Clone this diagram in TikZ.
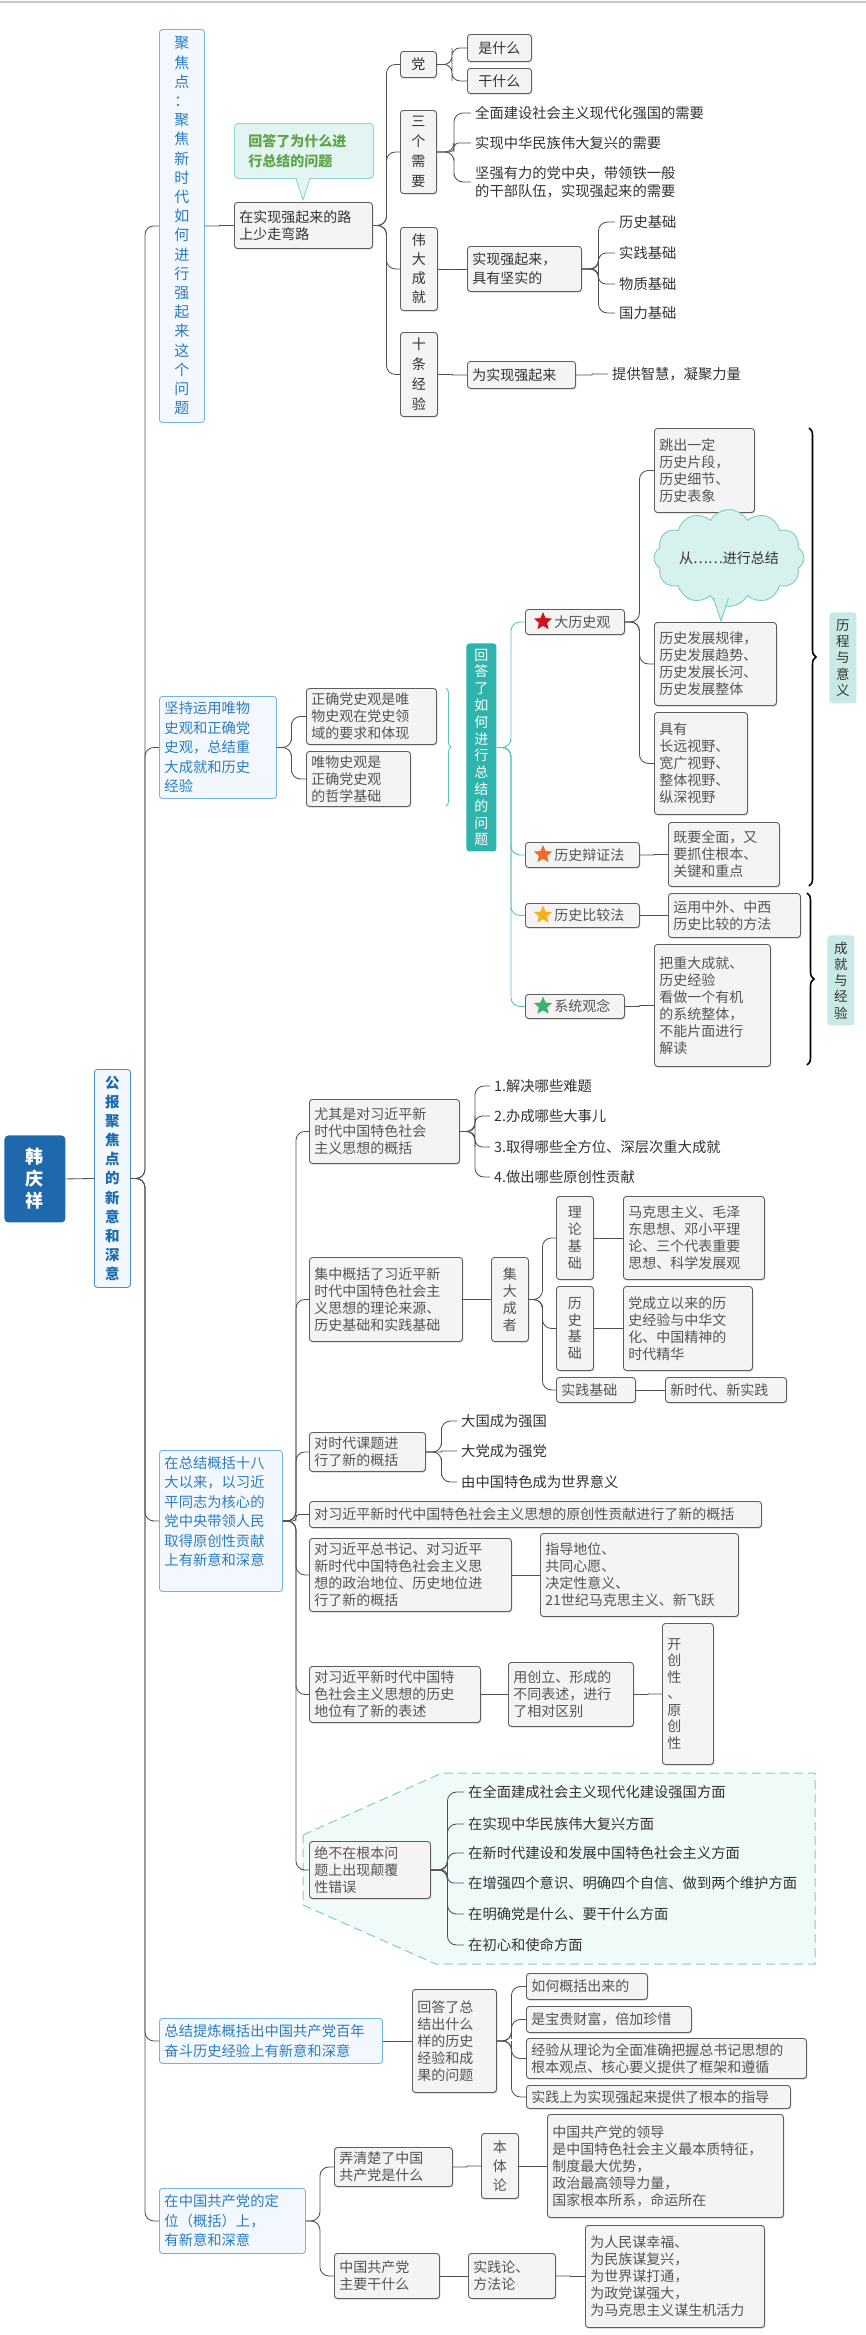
\documentclass[tikz,border=0pt]{standalone}
\usepackage{fontspec}
\setmainfont{Noto Sans CJK SC}
\usetikzlibrary{calc,shapes.geometric,shapes.symbols,decorations.pathreplacing,shadows}
\definecolor{gline}{HTML}{5E5E5E}
\definecolor{gfill}{HTML}{F4F4F4}
\definecolor{dtext}{HTML}{333333}
\definecolor{stext}{HTML}{555555}
\definecolor{bline}{HTML}{74B4DE}
\definecolor{bfill}{HTML}{F2F8FD}
\definecolor{btext}{HTML}{2C7DC0}
\definecolor{gbline}{HTML}{4A90C8}
\definecolor{gbtext}{HTML}{1B6AAE}
\definecolor{rootc}{HTML}{1E68AD}
\definecolor{tealc}{HTML}{2FB4AD}
\definecolor{tline}{HTML}{5DC2BA}
\definecolor{cline}{HTML}{505050}
\definecolor{labfill}{HTML}{C9E9E6}
\definecolor{calfill}{HTML}{E2F5F2}
\definecolor{calline}{HTML}{8FD3CB}
\definecolor{caltext}{HTML}{5FA548}
\definecolor{dashfill}{HTML}{F0FAF9}
\definecolor{dashline}{HTML}{84CDC6}
\definecolor{cloudfill}{HTML}{D6F1EE}
\definecolor{cloudline}{HTML}{7CCBC3}
\definecolor{stara}{HTML}{D0121C}
\definecolor{starb}{HTML}{F06A2A}
\definecolor{starc}{HTML}{F5B21A}
\definecolor{stard}{HTML}{3BB272}
\makeatletter
\newcommand\bx[7]{%
  \pgfmathsetmacro\bxw{#5-#3}\pgfmathsetmacro\bxh{#6-#4}\pgfmathsetmacro\bxt{#5-#3-10}%
  \node[#1,anchor=north west,minimum width=\bxw pt,minimum height=\bxh pt,text width=\bxt pt] (#2) at (#3,#4) {#7};}
\newcommand\lk[3][]{%
  \path (#2) coordinate (LA) (#3) coordinate (LB);%
  \pgfpointdiff{\pgfpointanchor{LA}{center}}{\pgfpointanchor{LB}{center}}%
  \pgfmathsetmacro\lkr{min(9,abs(\the\pgf@y)/2.05)}%
  \draw[conn,rounded corners=\lkr pt,#1] (LA) -| ($(LA)!.5!(LB)$) |- (LB);}
\makeatother
\begin{document}
\begin{tikzpicture}[x=1pt,y=-1pt]
\tikzset{
 bxbase/.style={rounded corners=3pt,line width=0.9pt,inner xsep=5pt,inner ysep=2pt,font=\fontsize{14}{17}\selectfont},
 gbox/.style={bxbase,draw=gline,fill=gfill,text=dtext,align=left,drop shadow={shadow xshift=0.8pt,shadow yshift=-1.2pt,fill=black,opacity=0.18}},
 sbox/.style={gbox,text=stext},
 vbox/.style={gbox,align=center,font=\fontsize{14}{19.5}\selectfont},
 svbox/.style={sbox,align=center,font=\fontsize{14}{16.8}\selectfont},
 bbox/.style={bxbase,draw=bline,fill=bfill,text=btext,align=left,font=\fontsize{14.3}{19.5}\selectfont},
 ptext/.style={anchor=west,inner xsep=4pt,inner ysep=1pt,text=dtext,font=\fontsize{14.3}{18}\selectfont,align=left},
 conn/.style={draw=cline,line width=0.85pt},
 tconn/.style={draw=tline,line width=0.9pt},
 starn/.style={star,star points=5,star point ratio=2.2,minimum size=19pt,inner sep=0pt,draw=none},
 labbox/.style={bxbase,fill=labfill,draw=none,text=dtext,align=center,font=\fontsize{13.5}{16.3}\selectfont},
}
\useasboundingbox (0,0) rectangle (866,2335);
\fill[white] (0,0) rectangle (866,2335);
\draw[black!22,line width=1.5pt] (0,2) -- (866,2);
\draw[dashline,fill=dashfill,dash pattern=on 9pt off 5pt,line width=1pt] (303,1835) -- (442,1773) -- (815,1773) -- (815,1964) -- (436,1964) -- (303,1905) -- cycle;

% level 0 and 1
\bx{bxbase,fill=rootc,text=white,align=center,font=\fontsize{18}{22}\selectfont\bfseries,rounded corners=4pt}{root}{4}{1135}{65}{1222}{韩\\庆\\祥}
\bx{bxbase,draw=gbline,fill=bfill,text=gbtext,align=center,font=\fontsize{14.5}{19.1}\selectfont\bfseries}{gb}{94}{1069}{130}{1287}{公\\报\\聚\\焦\\点\\的\\新\\意\\和\\深\\意}
\bx{bbox,align=center,font=\fontsize{15}{19.2}\selectfont}{jj}{159}{29}{204}{422}{聚\\焦\\点\\：\\聚\\焦\\新\\时\\代\\如\\何\\进\\行\\强\\起\\来\\这\\个\\问\\题}
\bx{bbox}{jc}{159}{696}{276}{798}{坚持运用唯物\\史观和正确党\\史观，总结重\\大成就和历史\\经验}
\bx{bbox}{zj}{159}{1450}{282}{1591}{在总结概括十八\\大以来，以习近\\平同志为核心的\\党中央带领人民\\取得原创性贡献\\上有新意和深意\\\mbox{}}
\bx{bbox}{zl}{159}{2018}{382}{2063}{总结提炼概括出中国共产党百年\\奋斗历史经验上有新意和深意}
\bx{bbox}{dw}{159}{2188}{305}{2253}{在中国共产党的定\\位（概括）上，\\有新意和深意}

% branch 1
\bx{gbox}{zs}{234}{202}{372}{248}{在实现强起来的路\\上少走弯路}
\bx{bxbase,draw=calline,fill=calfill,text=caltext,align=left,font=\fontsize{14}{20}\selectfont\bfseries,rounded corners=4pt}{cb}{234}{123}{373}{178}{\hspace*{9pt}回答了为什么进\\\hspace*{9pt}行总结的问题}
\fill[calfill] (296,176) -- (303,200) -- (310,176) -- cycle;
\draw[calline,line width=0.9pt] (296,178.4) -- (303,200) -- (310,178.4);
\bx{gbox,align=center}{dang}{400}{51}{436}{77}{党}
\bx{gbox,align=center}{ssm}{467}{34}{531}{61}{是什么}
\bx{gbox,align=center}{gsm}{467}{68}{531}{93}{干什么}
\bx{vbox,font=\fontsize{14}{20}\selectfont}{sgxy}{400}{110}{436}{193}{三\\个\\需\\要}
\node[ptext] (t1) at (471,113) {全面建设社会主义现代化强国的需要};
\node[ptext] (t2) at (471,143) {实现中华民族伟大复兴的需要};
\node[ptext] (t3) at (471,182) {坚强有力的党中央，带领铁一般\\的干部队伍，实现强起来的需要};
\bx{vbox,font=\fontsize{14}{19}\selectfont}{wdcj}{400}{227}{437}{310}{伟\\大\\成\\就}
\bx{gbox,font=\fontsize{14}{19}\selectfont}{sxq}{467}{246}{581}{291}{实现强起来，\\具有坚实的}
\node[ptext] (j1) at (615,222) {历史基础};
\node[ptext] (j2) at (615,253) {实践基础};
\node[ptext] (j3) at (615,284) {物质基础};
\node[ptext] (j4) at (615,313) {国力基础};
\bx{vbox,font=\fontsize{14}{20}\selectfont}{stjy}{400}{332}{437}{416}{十\\条\\经\\验}
\bx{gbox}{wsx}{467}{361}{575}{388}{为实现强起来}
\node[ptext] (tg) at (608,374) {提供智慧，凝聚力量};

% branch 2
\bx{sbox}{zqd}{306}{688}{436}{744}{正确党史观是唯\\物史观在党史领\\域的要求和体现}
\bx{sbox}{wws}{306}{751}{410}{806}{唯物史观是\\正确党史观\\的哲学基础}
\draw[tline,line width=0.9pt,decorate,decoration={brace,amplitude=5pt}] (446,688) -- (446,806);
\bx{bxbase,fill=tealc,draw=none,text=white,align=center,font=\fontsize{14}{16.8}\selectfont}{hdr}{466}{643}{496}{851}{回\\答\\了\\如\\何\\进\\行\\总\\结\\的\\问\\题}
\bx{sbox}{dls}{525}{609}{624}{634}{\hspace*{24pt}大历史观}
\node[starn,fill=stara] (sa) at (543,621.5) {};
\bx{sbox}{bz}{525}{842}{639}{867}{\hspace*{24pt}历史辩证法}
\node[starn,fill=starb] (sb) at (543,854.5) {};
\bx{sbox}{bj}{525}{903}{639}{927}{\hspace*{24pt}历史比较法}
\node[starn,fill=starc] (sc) at (543,915) {};
\bx{sbox}{xt}{525}{994}{624}{1018}{\hspace*{24pt}系统观念}
\node[starn,fill=stard] (sd) at (543,1006) {};
\bx{sbox}{tc}{654}{428}{754}{512}{跳出一定\\历史片段，\\历史细节、\\历史表象}
\node[cloud,cloud puffs=12,cloud puff arc=120,aspect=1.8,minimum width=150pt,minimum height=84pt,draw=cloudline,fill=cloudfill,line width=0.9pt,text=dtext,font=\fontsize{14}{17}\selectfont,inner sep=0pt] (cl) at (729,558) {从……进行总结};
\fill[cloudfill] (712,592) -- (721,621) -- (730,592) -- cycle;
\draw[cloudline,line width=0.9pt] (713.5,598) -- (721,621) -- (728.5,598);
\bx{sbox}{fz}{654}{622}{776}{705}{历史发展规律，\\历史发展趋势、\\历史发展长河、\\历史发展整体}
\bx{sbox}{jy}{654}{712}{747}{814}{具有\\长远视野、\\宽广视野、\\整体视野、\\纵深视野}
\bx{sbox}{qm}{668}{822}{779}{886}{既要全面，又\\要抓住根本、\\关键和重点}
\bx{sbox}{yy}{668}{893}{800}{937}{运用中外、中西\\历史比较的方法}
\bx{sbox}{bzd}{654}{944}{770}{1066}{把重大成就、\\历史经验\\看做一个有机\\的系统整体，\\不能片面进行\\解读}
\draw[black,line width=1.6pt,decorate,decoration={brace,amplitude=7pt}] (809,428) -- (809,886);
\draw[black,line width=1.6pt,decorate,decoration={brace,amplitude=7pt}] (807,893) -- (807,1065);
\bx{labbox}{lc}{829}{612}{856}{703}{历\\程\\与\\意\\义}
\bx{labbox}{cj}{827}{935}{854}{1025}{成\\就\\与\\经\\验}

% branch 3
\bx{sbox}{yq}{309}{1099}{459}{1163}{尤其是对习近平新\\时代中国特色社会\\主义思想的概括}
\node[ptext] (y1) at (490,1086) {1.解决哪些难题};
\node[ptext] (y2) at (490,1116) {2.办成哪些大事儿};
\node[ptext] (y3) at (490,1147) {3.取得哪些全方位、深层次重大成就};
\node[ptext] (y4) at (490,1177) {4.做出哪些原创性贡献};
\bx{sbox}{jz}{309}{1257}{462}{1341}{集中概括了习近平新\\时代中国特色社会主\\义思想的理论来源、\\历史基础和实践基础}
\bx{svbox}{jd}{491}{1257}{528}{1341}{集\\大\\成\\者}
\bx{svbox}{ll}{556}{1196}{593}{1279}{理\\论\\基\\础}
\bx{sbox}{mk}{623}{1196}{764}{1279}{马克思主义、毛泽\\东思想、邓小平理\\论、三个代表重要\\思想、科学发展观}
\bx{svbox}{ls}{556}{1286}{593}{1370}{历\\史\\基\\础}
\bx{sbox}{dc}{623}{1286}{752}{1370}{党成立以来的历\\史经验与中华文\\化、中国精神的\\时代精华}
\bx{sbox}{sj}{556}{1377}{635}{1402}{实践基础}
\bx{sbox}{xsd}{665}{1377}{786}{1402}{新时代、新实践}
\bx{sbox}{ds}{309}{1432}{425}{1471}{对时代课题进\\行了新的概括}
\node[ptext] (d1) at (457,1421) {大国成为强国};
\node[ptext] (d2) at (457,1451) {大党成为强党};
\node[ptext] (d3) at (457,1482) {由中国特色成为世界意义};
\bx{sbox}{yc}{309}{1501}{761}{1527}{对习近平新时代中国特色社会主义思想的原创性贡献进行了新的概括}
\bx{sbox}{zs2}{309}{1538}{511}{1611}{对习近平总书记、对习近平\\新时代中国特色社会主义思\\想的政治地位、历史地位进\\行了新的概括}
\bx{sbox}{zd}{540}{1533}{738}{1616}{指导地位、\\共同心愿、\\决定性意义、\\21世纪马克思主义、新飞跃}
\bx{sbox}{lsd}{309}{1666}{480}{1722}{对习近平新时代中国特\\色社会主义思想的历史\\地位有了新的表述}
\bx{sbox}{yc2}{508}{1662}{633}{1726}{用创立、形成的\\不同表述，进行\\了相对区别}
\bx{sbox,font=\fontsize{14}{16.5}\selectfont}{kc}{662}{1623}{713}{1764}{开\\创\\性\\、\\原\\创\\性}
\bx{sbox}{jb}{309}{1841}{430}{1898}{绝不在根本问\\题上出现颠覆\\性错误}
\node[ptext] (b1) at (464,1792) {在全面建成社会主义现代化建设强国方面};
\node[ptext] (b2) at (464,1824) {在实现中华民族伟大复兴方面};
\node[ptext] (b3) at (464,1853) {在新时代建设和发展中国特色社会主义方面};
\node[ptext] (b4) at (464,1883) {在增强四个意识、明确四个自信、做到两个维护方面};
\node[ptext] (b5) at (464,1914) {在明确党是什么、要干什么方面};
\node[ptext] (b6) at (464,1945) {在初心和使命方面};

% branch 4
\bx{sbox}{hd}{412}{1989}{496}{2092}{回答了总\\结出什么\\样的历史\\经验和成\\果的问题}
\bx{sbox}{rh}{526}{1973}{647}{1999}{如何概括出来的}
\bx{sbox}{sbc}{526}{2006}{691}{2032}{是宝贵财富，倍加珍惜}
\bx{sbox}{jyc}{526}{2038}{806}{2078}{经验从理论为全面准确把握总书记思想的\\根本观点、核心要义提供了框架和遵循}
\bx{sbox}{sjs}{526}{2085}{790}{2108}{实践上为实现强起来提供了根本的指导}

% branch 5
\bx{sbox}{nq}{334}{2147}{452}{2186}{弄清楚了中国\\共产党是什么}
\bx{svbox,font=\fontsize{14}{19}\selectfont}{bt}{481}{2133}{518}{2198}{本\\体\\论}
\bx{sbox}{zg}{547}{2114}{783}{2217}{中国共产党的领导\\是中国特色社会主义最本质特征，\\制度最大优势，\\政治最高领导力量，\\国家根本所系，命运所在}
\bx{sbox}{zy}{334}{2253}{439}{2298}{中国共产党\\主要干什么}
\bx{sbox}{sl}{468}{2253}{555}{2298}{实践论、\\方法论}
\bx{sbox}{wr}{585}{2225}{764}{2327}{为人民谋幸福、\\为民族谋复兴，\\为世界谋打通，\\为政党谋强大，\\为马克思主义谋生机活力}

% connectors
\draw[conn] (root.east) -- (gb.west);
\lk{gb.east}{jj.west}
\lk{gb.east}{jc.west}
\lk{gb.east}{zj.west}
\lk{gb.east}{zl.west}
\lk{gb.east}{dw.west}
\lk{jj.east}{zs.west}
\lk{zs.east}{dang.west}
\lk{zs.east}{sgxy.west}
\lk{zs.east}{wdcj.west}
\lk{zs.east}{stjy.west}
\lk{dang.east}{ssm.west}
\lk{dang.east}{gsm.west}
\lk{sgxy.east}{t1.west}
\lk{sgxy.east}{t2.west}
\lk{sgxy.east}{t3.west}
\lk{wdcj.east}{sxq.west}
\lk{sxq.east}{j1.west}
\lk{sxq.east}{j2.west}
\lk{sxq.east}{j3.west}
\lk{sxq.east}{j4.west}
\lk{stjy.east}{wsx.west}
\lk{wsx.east}{tg.west}
\lk{jc.east}{zqd.west}
\lk{jc.east}{wws.west}
\lk[tconn]{hdr.east}{dls.west}
\lk[tconn]{hdr.east}{bz.west}
\lk[tconn]{hdr.east}{bj.west}
\lk[tconn]{hdr.east}{xt.west}
\lk{dls.east}{tc.west}
\lk{dls.east}{fz.west}
\lk{dls.east}{jy.west}
\lk{bz.east}{qm.west}
\lk{bj.east}{yy.west}
\lk{xt.east}{bzd.west}
\lk{zj.east}{yq.west}
\lk{zj.east}{jz.west}
\lk{zj.east}{ds.west}
\lk{zj.east}{yc.west}
\lk{zj.east}{zs2.west}
\lk{zj.east}{lsd.west}
\lk{zj.east}{jb.west}
\lk{yq.east}{y1.west}
\lk{yq.east}{y2.west}
\lk{yq.east}{y3.west}
\lk{yq.east}{y4.west}
\lk{jz.east}{jd.west}
\lk{jd.east}{ll.west}
\lk{jd.east}{ls.west}
\lk{jd.east}{sj.west}
\lk{ll.east}{mk.west}
\lk{ls.east}{dc.west}
\lk{sj.east}{xsd.west}
\lk{ds.east}{d1.west}
\lk{ds.east}{d2.west}
\lk{ds.east}{d3.west}
\lk{zs2.east}{zd.west}
\lk{lsd.east}{yc2.west}
\lk{yc2.east}{kc.west}
\lk{jb.east}{b1.west}
\lk{jb.east}{b2.west}
\lk{jb.east}{b3.west}
\lk{jb.east}{b4.west}
\lk{jb.east}{b5.west}
\lk{jb.east}{b6.west}
\lk{zl.east}{hd.west}
\lk{hd.east}{rh.west}
\lk{hd.east}{sbc.west}
\lk{hd.east}{jyc.west}
\lk{hd.east}{sjs.west}
\lk{dw.east}{nq.west}
\lk{dw.east}{zy.west}
\lk{nq.east}{bt.west}
\lk{bt.east}{zg.west}
\lk{zy.east}{sl.west}
\lk{sl.east}{wr.west}
\end{tikzpicture}
\end{document}
